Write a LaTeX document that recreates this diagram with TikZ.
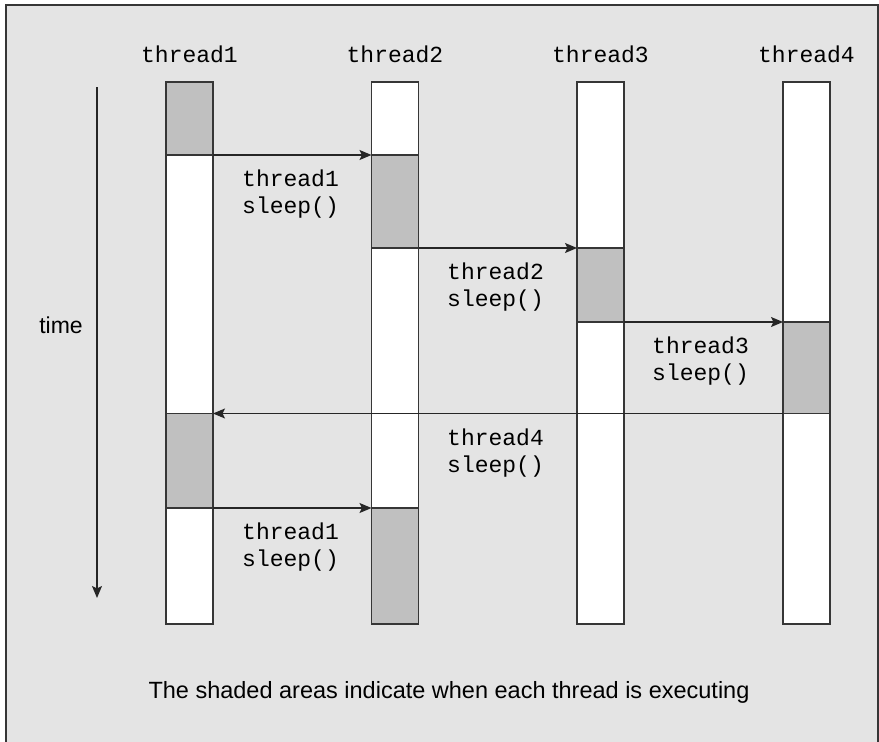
\documentclass[tikz,border=0pt]{standalone}
\usepackage{fontspec}
\setmainfont{Liberation Sans}
\setmonofont{Liberation Mono}
\usetikzlibrary{positioning, arrows.meta}
\definecolor{panelfill}{HTML}{E4E4E4}
\definecolor{busyfill}{HTML}{C0C0C0}
\definecolor{edgeline}{HTML}{363636}
\tikzset{
  seg/.style={
    draw=edgeline,
    rectangle,
    anchor=north,
    minimum width=47pt,
    inner sep=0pt,
    outer sep=0pt,
    line width=1.2pt,
  },
  busy/.style={seg, fill=busyfill},
  idle/.style={seg, fill=white},
  flow/.style={-{Stealth[length=12pt, width=10pt, inset=2.5pt]}, line width=1.2pt, black!85},
  title/.style={font=\ttfamily\fontsize{23}{26.5}\selectfont, inner sep=0pt},
  sleeplbl/.style={
    font=\ttfamily\fontsize{23}{26.5}\selectfont,
    align=left,
    anchor=north west,
    inner sep=0pt,
  },
}

\begin{document}
\begin{tikzpicture}[x=1pt, y=-1pt]
\useasboundingbox (0,0) rectangle (879,742);

% Panel
\fill[panelfill] (6,5) rectangle (878,742);
\draw[edgeline, line width=1.4pt] (6,742) |- (878,5) -- (878,742);

% Thread bars: name/centre/top/bottom/kind
\foreach \nm/\cx/\top/\bot/\kind in {
    t1s1/189.5/82/155/busy, t1s2/189.5/155/413.5/idle, t1s3/189.5/413.5/508/busy, t1s4/189.5/508/624/idle,
    t2s1/395/82/155/idle,   t2s2/395/155/248/busy,     t2s3/395/248/508/idle,     t2s4/395/508/624/busy,
    t3s1/600.5/82/248/idle, t3s2/600.5/248/322/busy,   t3s3/600.5/322/624/idle,
    t4s1/806.5/82/322/idle, t4s2/806.5/322/413.5/busy, t4s3/806.5/413.5/624/idle}
  {\node[\kind, minimum height={(\bot-\top)*1pt}] (\nm) at (\cx,\top) {};}

% Column headings
\foreach \i in {1,...,4}
  {\node[title, above=19pt of t\i s1] (h\i) {thread\i};}

% Hand-overs
\foreach \a/\b in {t1s1/t2s2, t2s2/t3s2, t3s2/t4s2, t1s3/t2s4}
  {\draw[flow] (\a.south east) -- (\b.north west);}
\draw[flow] (t4s2.south west) -- (t1s3.north east);     % back to thread1

% Sleep labels
\node[sleeplbl] (lab1) at (242,170) {thread1\\sleep()};
\node[sleeplbl] (lab2) at (447,263) {thread2\\sleep()};
\node[sleeplbl] (lab3) at (652,337) {thread3\\sleep()};
\node[sleeplbl] (lab4) at (447,429) {thread4\\sleep()};
\node[sleeplbl] (lab5) at (242,523) {thread1\\sleep()};

% Time axis
\coordinate (tstart) at (97,87);
\coordinate (tend) at (97,598);
\draw[flow] (tstart) -- (tend);
\node[font=\fontsize{23}{27}\selectfont, inner sep=0pt, anchor=base] (timelbl) at (61,333) {time};

% Caption
\node[font=\fontsize{23.5}{27}\selectfont, inner sep=0pt, anchor=base] (note) at (449,698)
  {The shaded areas indicate when each thread is executing};

\end{tikzpicture}
\end{document}
